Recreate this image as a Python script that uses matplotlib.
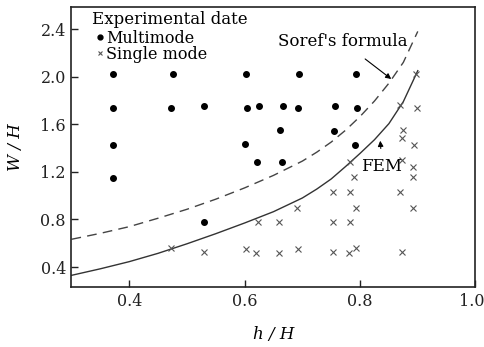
import matplotlib
matplotlib.use("Agg")
import matplotlib.pyplot as plt
from matplotlib.transforms import ScaledTranslation

plt.rcParams['font.family'] = ['DejaVu Serif']

# multimode points (dots)
multi_x = [0.372, 0.476, 0.602, 0.694, 0.793,
           0.372, 0.472, 0.529, 0.604, 0.625, 0.666, 0.693, 0.756, 0.795,
           0.661, 0.755,
           0.372, 0.600, 0.792,
           0.622, 0.664,
           0.372, 0.529]
multi_y = [2.02, 2.02, 2.02, 2.02, 2.02,
           1.74, 1.74, 1.75, 1.735, 1.75, 1.75, 1.735, 1.755, 1.735,
           1.55, 1.545,
           1.425, 1.434, 1.425,
           1.28, 1.28,
           1.15, 0.776]

# single mode points (crosses)
single_x = [0.473, 0.529, 0.602, 0.619, 0.660, 0.692,
            0.623, 0.660, 0.691,
            0.753, 0.781, 0.793,
            0.753, 0.783, 0.793,
            0.753, 0.783, 0.789, 0.783,
            0.872, 0.891, 0.869, 0.892, 0.892, 0.872, 0.893, 0.872, 0.875, 0.870, 0.899, 0.897]
single_y = [0.557, 0.523, 0.551, 0.518, 0.520, 0.551,
            0.776, 0.776, 0.893,
            0.529, 0.520, 0.557,
            0.780, 0.780, 0.893,
            1.033, 1.033, 1.159, 1.285,
            0.529, 0.893, 1.033, 1.159, 1.243, 1.300, 1.425, 1.480, 1.550, 1.760, 1.733, 2.020]

# curves
curve_x = [0.30, 0.35, 0.40, 0.45, 0.50, 0.55, 0.60, 0.65, 0.70, 0.725,
           0.75, 0.775, 0.80, 0.825, 0.85, 0.875, 0.90]
fem_y = [0.33, 0.385, 0.445, 0.515, 0.595, 0.68, 0.77, 0.865, 0.98, 1.055,
         1.14, 1.245, 1.355, 1.47, 1.605, 1.79, 2.05]
soref_y = [0.633, 0.683, 0.739, 0.81, 0.885, 0.97, 1.065, 1.17, 1.29, 1.365,
           1.45, 1.55, 1.665, 1.795, 1.945, 2.12, 2.38]

xticks = [0.4, 0.6, 0.8, 1.0]
yticks = [0.4, 0.8, 1.2, 1.6, 2.0, 2.4]

fig = plt.figure(figsize=(4.85, 3.47), dpi=100)
ax = fig.add_axes([0.1474, 0.1729, 0.8330, 0.8069])

ax.plot(curve_x, soref_y, color='#444444', lw=1.0, dashes=(7, 4.5))
ax.plot(curve_x, fem_y, color='#333333', lw=1.0)

ax.plot(multi_x, multi_y, 'o', color='black', ms=4, ls='none', label='Multimode')
ax.plot(single_x, single_y, 'x', color='#555555', ms=5, mew=0.8, ls='none', label='Single mode')

# legend block
ax.text(0.05, 0.954, 'Experimental date', transform=ax.transAxes,
        ha='left', va='center', fontsize=12)
leg = ax.legend(loc='upper left', frameon=False,
                handlelength=0.4, handletextpad=0.2, labelspacing=-0.08,
                fontsize=11.5, borderaxespad=0.2,
                bbox_to_anchor=(0.038, 0.952))
leg.legend_handles[0].set_markersize(3.5)
leg.legend_handles[1].set_markersize(3.5)

ax.annotate("Soref's formula", xy=(0.854, 1.98), xytext=(0.770, 2.293),
            ha='center', va='center', fontsize=12,
            arrowprops=dict(arrowstyle='-|>', color='black', lw=0.8,
                            mutation_scale=8, shrinkA=7, shrinkB=0))
ax.annotate("FEM", xy=(0.835, 1.461), xytext=(0.838, 1.243),
            ha='center', va='center', fontsize=12,
            arrowprops=dict(arrowstyle='-|>', color='black', lw=0.8,
                            mutation_scale=8, shrinkA=5, shrinkB=0))

ax.set_xlim(0.3, 1.0)
ax.set_ylim(0.232, 2.585)
ax.set_xticks(xticks)
ax.set_yticks(yticks)
ax.tick_params(direction='in', length=5, width=1.0, labelsize=11.5, colors='#222222', pad=4)
for s in ax.spines.values():
    s.set_linewidth(1.2)
    s.set_color('#222222')

# nudge the last x label so it stays inside the figure
last = ax.get_xticklabels()[-1]
last.set_transform(last.get_transform() + ScaledTranslation(-3 / 72, 0, fig.dpi_scale_trans))

ax.set_xlabel('h / H', fontsize=12, style='italic', labelpad=12)
ax.set_ylabel('W / H', fontsize=12, style='italic', labelpad=12)

fig.savefig('out.png', dpi=100)
